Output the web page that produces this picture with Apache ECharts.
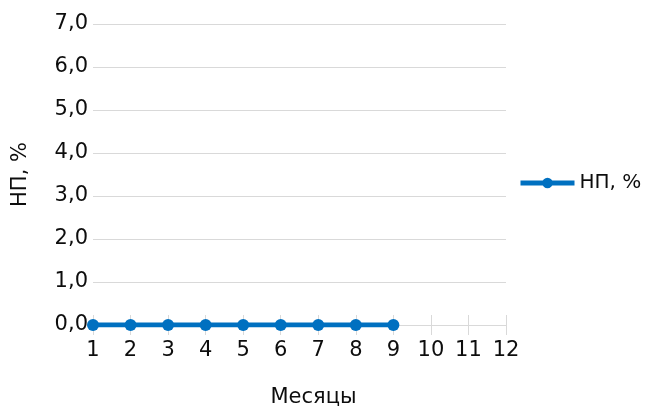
<!DOCTYPE html>
<html><head><meta charset="utf-8">
<script src="https://cdn.jsdelivr.net/npm/echarts@6/dist/echarts.min.js"></script>
<style>html,body{margin:0;padding:0;background:#fff}#c{width:645px;height:410px}</style>
</head><body><div id="c"></div>
<script>
var months = ['1','2','3','4','5','6','7','8','9','10','11','12'];
var npValues = [0,0,0,0,0,0,0,0,0];
var seriesName = 'НП, %';
var yName = 'НП, %';
var xName = 'Месяцы';
var FONT = '"DejaVu Sans", sans-serif';
var TXT = '#0d0d0d';
var chart = echarts.init(document.getElementById('c'));
chart.setOption({
  animation: false,
  grid: {left: 93, right: 139, top: 24, bottom: 85, containLabel: false, outerBoundsMode: 'none'},
  legend: {
    data: [seriesName], left: 513, top: 168, orient: 'vertical',
    itemWidth: 54, itemHeight: 13, itemGap: 6,
    lineStyle: {width: 5},
    textStyle: {fontFamily: FONT, fontSize: 20, color: TXT}
  },
  xAxis: [{
    type: 'category', data: months, boundaryGap: false,
    name: xName, nameLocation: 'middle', nameGap: 62,
    nameTextStyle: {fontFamily: FONT, fontSize: 21, color: TXT, padding: [0, 0, 0, 28]},
    axisLine: {show: true, lineStyle: {color: '#d9d9d9', width: 1}},
    axisTick: {show: true, length: 10, lineStyle: {color: '#d9d9d9'}},
    axisLabel: {fontFamily: FONT, fontSize: 21, color: TXT, margin: 15},
    splitLine: {show: false}
  }, {
    type: 'category', data: months, boundaryGap: false, position: 'bottom',
    axisLine: {show: false},
    axisTick: {show: true, inside: true, length: 10, lineStyle: {color: '#d9d9d9'}},
    axisLabel: {show: false}, splitLine: {show: false}
  }],
  yAxis: {
    type: 'value', min: 0, max: 7, interval: 1,
    name: yName, nameLocation: 'middle', nameGap: 62, nameRotate: 90,
    nameTextStyle: {fontFamily: FONT, fontSize: 21, color: TXT},
    axisLine: {show: false}, axisTick: {show: false},
    axisLabel: {fontFamily: FONT, fontSize: 21, color: TXT, margin: 5,
      formatter: function(v){ return v.toFixed(1).replace('.', ','); }},
    splitLine: {lineStyle: {color: '#d9d9d9', width: 1}}
  },
  series: [{
    name: seriesName, type: 'line', data: npValues, xAxisIndex: 0,
    symbol: 'circle', symbolSize: 12, showSymbol: true,
    lineStyle: {color: '#0070C0', width: 5},
    itemStyle: {color: '#0070C0'}, z: 5
  }]
});
</script></body></html>
